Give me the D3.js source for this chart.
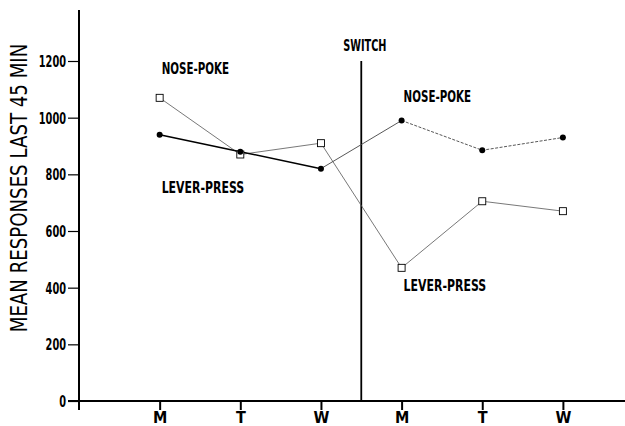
<!DOCTYPE html>
<meta charset="utf-8">
<style>
body { margin: 0; background: white; }
text { font-family: "DejaVu Sans Condensed", "Liberation Sans Narrow", sans-serif; fill: black; }
.tick-lbl { font-size: 15px; font-weight: bold; }
.lbl { font-size: 15px; font-weight: bold; }
</style>
<script src="https://d3js.org/d3.v7.min.js"></script>
<body>
<script>
const days = ['M', 'T', 'W', 'M', 'T', 'W'];
const squareVals = [1070, 870, 910, 470, 705, 670];
const circleVals = [940, 880, 820, 990, 885, 930];
const yTicks = [0, 200, 400, 600, 800, 1000, 1200];
const labels = [
  {text: 'NOSE-POKE', i: 0, v: 1155},
  {text: 'LEVER-PRESS', i: 0, v: 735},
  {text: 'NOSE-POKE', i: 3, v: 1055},
  {text: 'LEVER-PRESS', i: 3, v: 390}
];

const width = 625, height = 426;
const svg = d3.select('body').append('svg')
  .attr('width', width).attr('height', height);

const x = d3.scaleLinear().domain([-1, 5.77]).range([79, 625]);
const y = d3.scaleLinear().domain([0, 1380]).range([401, 10]);

// squeeze text to a narrow plotter look
function narrow(sel, perChar) {
  sel.each(function() {
    const t = d3.select(this);
    t.attr('textLength', t.text().length * perChar).attr('lengthAdjust', 'spacingAndGlyphs');
  });
}

// y axis
const yAxis = svg.append('g').attr('transform', 'translate(79,0)')
  .call(d3.axisLeft(y).tickValues(yTicks).tickSize(11).tickPadding(2).tickFormat(d3.format('d')));
yAxis.select('.domain').remove();
yAxis.selectAll('line').attr('stroke', 'black').attr('stroke-width', 1.2);
yAxis.selectAll('text').attr('class', 'tick-lbl').attr('dy', '0.36em').call(narrow, 6.8);
svg.append('line').attr('x1', 79).attr('x2', 79).attr('y1', y(1380)).attr('y2', 410)
  .attr('stroke', 'black').attr('stroke-width', 2);

// x axis
const xAxis = svg.append('g').attr('transform', 'translate(0,401)')
  .call(d3.axisBottom(x).tickValues(d3.range(6)).tickSize(9).tickPadding(2).tickFormat(i => days[i]));
xAxis.select('.domain').remove();
xAxis.selectAll('line').attr('stroke', 'black').attr('stroke-width', 2);
xAxis.selectAll('text').attr('class', 'tick-lbl').style('font-size', '16px');
svg.append('line').attr('x1', 68).attr('x2', 625).attr('y1', 401).attr('y2', 401)
  .attr('stroke', 'black').attr('stroke-width', 2);

// y label
svg.append('text').attr('transform', 'translate(19,188) rotate(-90)')
  .attr('text-anchor', 'middle').attr('dy', '0.36em')
  .style('font-size', '23px')
  .text('MEAN RESPONSES LAST 45 MIN')
  .call(narrow, 11.1);

// switch
svg.append('line').attr('x1', x(2.5)).attr('x2', x(2.5)).attr('y1', y(1200)).attr('y2', 401)
  .attr('stroke', 'black').attr('stroke-width', 1.8);
svg.append('text').attr('class', 'lbl').attr('x', x(2.5) - 18).attr('y', 51)
  .text('SWITCH').call(narrow, 7.2);

const line = d3.line().x((d, i) => x(i)).y(d => y(d));

// square series: thin line
svg.append('path').datum(squareVals).attr('d', line)
  .attr('fill', 'none').attr('stroke', '#555').attr('stroke-width', 0.8);

// circle series: thick for first three days, thin across the switch, dotted after
const circPts = circleVals.map((v, i) => [x(i), y(v)]);
svg.append('path').attr('d', d3.line()(circPts.slice(0, 3)))
  .attr('fill', 'none').attr('stroke', 'black').attr('stroke-width', 1.6);
svg.append('path').attr('d', d3.line()(circPts.slice(2, 4)))
  .attr('fill', 'none').attr('stroke', '#444').attr('stroke-width', 0.9);
svg.append('path').attr('d', d3.line()(circPts.slice(3)))
  .attr('fill', 'none').attr('stroke', '#444').attr('stroke-width', 0.9)
  .attr('stroke-dasharray', '3,1.5');

svg.selectAll('.sq').data(squareVals).enter().append('rect')
  .attr('x', (d, i) => x(i) - 3.5).attr('y', d => y(d) - 3.5)
  .attr('width', 7).attr('height', 7)
  .attr('fill', 'white').attr('stroke', 'black').attr('stroke-width', 0.9);

svg.selectAll('.ci').data(circleVals).enter().append('circle')
  .attr('cx', (d, i) => x(i)).attr('cy', d => y(d)).attr('r', 3)
  .attr('fill', 'black');

svg.selectAll('.lb').data(labels).enter().append('text')
  .attr('class', 'lbl').attr('x', d => x(d.i) + 2).attr('y', d => y(d.v))
  .text(d => d.text).call(narrow, 7.5);
</script>
</body>
